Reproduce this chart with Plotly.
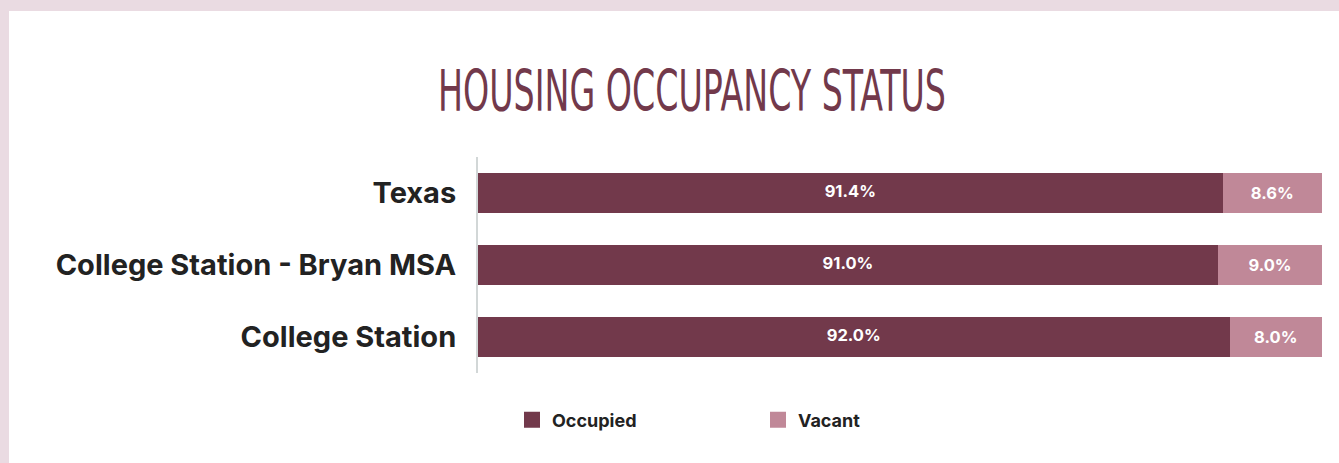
import plotly.graph_objects as go

categories = ["Texas", "College Station - Bryan MSA", "College Station"]
occupied = [91.4, 91.0, 92.0]
vacant = [8.6, 9.0, 8.0]
series_names = ["Occupied", "Vacant"]

C_OCC = "#72394b"
C_VAC = "#c08898"
BG = "#eadbe2"

W, H = 1339, 463
ml, mr, mt, mb = 478, 17, 157, 90
pw, ph = W - ml - mr, H - mt - mb
XMIN = 27

label_font = dict(color="white", size=16.5, family="Inter", weight="bold")

fig = go.Figure()
for name, vals, col in [(series_names[0], occupied, C_OCC), (series_names[1], vacant, C_VAC)]:
    is_occ = name == series_names[0]
    fig.add_trace(go.Bar(
        y=categories, x=vals, orientation="h", name=name,
        marker=dict(color=col, line=dict(width=0)),
        text=[f"{v:.1f}%" for v in vals],
        textposition="none" if is_occ else "inside",
        insidetextanchor="middle",
        textfont=label_font,
        showlegend=False, hoverinfo="skip",
    ))
    fig.add_trace(go.Scatter(
        x=[None], y=[None], mode="markers", name=name,
        marker=dict(symbol="square", size=17, color=col),
        showlegend=True,
    ))

# labels for the occupied segment, centred on its visible part
fig.add_trace(go.Scatter(
    x=[(XMIN + v) / 2 for v in occupied], y=categories, mode="text",
    text=[f"{v:.1f}%" for v in occupied], textfont=label_font,
    textposition="middle center", showlegend=False, hoverinfo="skip",
))

fig.add_shape(type="rect", xref="paper", yref="paper",
              x0=(9 - ml) / pw, x1=(W - ml) / pw + 0.01,
              y0=-(mb + 10) / ph, y1=(H - mb - 11) / ph,
              fillcolor="white", line=dict(width=0), layer="below")

fig.update_layout(
    width=W, height=H,
    margin=dict(l=ml, r=mr, t=mt, b=mb),
    paper_bgcolor=BG, plot_bgcolor="white",
    barmode="stack", bargap=0.444,
    title=dict(text="HOUSING OCCUPANCY STATUS", x=692 / W, xanchor="center",
               y=1 - 91 / H, yanchor="middle",
               font=dict(family="DejaVu Sans Condensed", size=37, color=C_OCC)),
    xaxis=dict(range=[XMIN, 100], visible=False, fixedrange=True),
    yaxis=dict(categoryorder="array", categoryarray=categories, autorange="reversed",
               showline=True, linecolor="#d2d7d7", linewidth=2, showgrid=False,
               ticks="", ticklabelstandoff=14, zeroline=False,
               tickfont=dict(family="Inter", size=29, color="#222222", weight="bold")),
    legend=dict(orientation="h", x=(512 - ml) / pw, xanchor="left",
                y=-(420 - (H - mb)) / ph, yanchor="middle",
                entrywidth=201, entrywidthmode="pixels", traceorder="normal",
                font=dict(family="Inter", size=18, color="#222222", weight="bold"),
                bgcolor="rgba(0,0,0,0)"),
    showlegend=True,
)

post = """
document.body.style.margin='0';
document.body.style.padding='0';
document.body.style.background='%s';
var t=document.querySelector('.gtitle');
if(t){
  var b=t.getBBox(); var cx=b.x+b.width/2, cy=b.y+b.height/2;
  var prev=t.getAttribute('transform')||'';
  t.setAttribute('transform', prev+' translate('+cx+','+cy+') scale(1,1.55) translate('+(-cx)+','+(-cy)+')');
}
""" % BG

fig.write_html("out.html", post_script=post, config={"displayModeBar": False})
